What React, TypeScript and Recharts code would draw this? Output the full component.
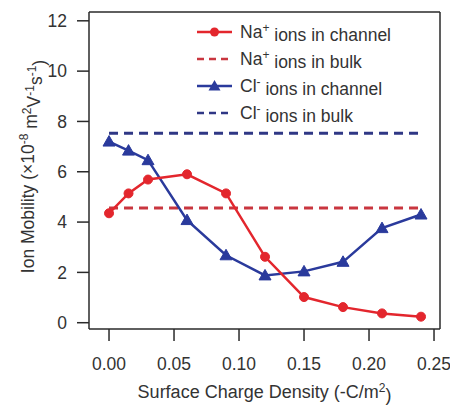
import React from 'react';
import { LineChart, Line, XAxis, YAxis, Legend } from 'recharts';

// surface charge density (-C/m^2)
const densities = [0, 0.015, 0.03, 0.06, 0.09, 0.12, 0.15, 0.18, 0.21, 0.24];
const naChannel = [4.35, 5.14, 5.69, 5.9, 5.14, 2.62, 1.02, 0.62, 0.37, 0.24];
const clChannel = [7.2, 6.84, 6.46, 4.08, 2.68, 1.88, 2.04, 2.42, 3.76, 4.3];
const bulkRange = [0, 0.24];
const naBulk = 4.56;
const clBulk = 7.53;

const xTicks = [0, 0.05, 0.1, 0.15, 0.2, 0.25];
const yTicks = [0, 2, 4, 6, 8, 10, 12];

const RED = '#e3262d';
const RED_DASH = '#c9363f';
const BLUE = '#2a3a9c';
const BLUE_DASH = '#2f3785';
const AXIS = '#2a2a2a';
const FONT = '"Liberation Sans", Arial, sans-serif';

const naData = densities.map((x, i) => ({ x, y: naChannel[i] }));
const clData = densities.map((x, i) => ({ x, y: clChannel[i] }));
const naBulkData = bulkRange.map(x => ({ x, y: naBulk }));
const clBulkData = bulkRange.map(x => ({ x, y: clBulk }));

const X_DOMAIN = [-0.0154, 0.2546];
const Y_DOMAIN = [-0.25, 12.35];

const Triangle = (props: any) => {
    const { cx, cy, index } = props;
    if (cx == null || cy == null) return null;
    const s = 6;
    return (
        <path
            key={`tri-${index}`}
            d={`M${cx},${cy - s} L${cx + s},${cy + s * 0.75} L${cx - s},${cy + s * 0.75} Z`}
            fill={BLUE}
            stroke={BLUE}
            strokeWidth={1}
        />
    );
};

const sup = { fontSize: 12 };

const XLabel = (props: any) => {
    const vb = props.viewBox;
    const cx = vb.x + vb.width / 2;
    return (
        <text x={cx} y={398} textAnchor="middle" fill="#333" fontSize={18} fontFamily={FONT}>
            Surface Charge Density (-C/m<tspan dy="-0.5em" style={sup}>2</tspan><tspan dy="0.5em">)</tspan>
        </text>
    );
};

const YLabel = (props: any) => {
    const vb = props.viewBox;
    const cy = vb.y + vb.height / 2 - 4;
    const x = 34;
    return (
        <text x={x} y={cy} transform={`rotate(-90 ${x} ${cy})`} textAnchor="middle" fill="#333" fontSize={17.5} fontFamily={FONT}>
            Ion Mobility (×10<tspan dy="-0.5em" style={sup}>-8</tspan>
            <tspan dy="0.5em"> m</tspan><tspan dy="-0.5em" style={sup}>2</tspan>
            <tspan dy="0.5em">V</tspan><tspan dy="-0.5em" style={sup}>-1</tspan>
            <tspan dy="0.5em">s</tspan><tspan dy="-0.5em" style={sup}>-1</tspan>
            <tspan dy="0.5em">)</tspan>
        </text>
    );
};

const legendItems = [
    { name: 'Na', charge: '+', rest: ' ions in channel', color: RED, dashed: false, marker: 'circle' },
    { name: 'Na', charge: '+', rest: ' ions in bulk', color: RED_DASH, dashed: true, marker: '' },
    { name: 'Cl', charge: '-', rest: ' ions in channel', color: BLUE, dashed: false, marker: 'triangle' },
    { name: 'Cl', charge: '-', rest: ' ions in bulk', color: BLUE_DASH, dashed: true, marker: '' },
];

const LegendBox = () => (
    <svg width={250} height={112} style={{ display: 'block' }}>
        {legendItems.map((it, i) => {
            const y = 14 + i * 27;
            return (
                <g key={i}>
                    <line x1={7} x2={42} y1={y} y2={y} stroke={it.color}
                        strokeWidth={2.5} strokeDasharray={it.dashed ? '7 5' : undefined} />
                    {it.marker === 'circle' && <circle cx={24.5} cy={y} r={4.5} fill={it.color} />}
                    {it.marker === 'triangle' && (
                        <path d={`M24.5,${y - 6} L30.5,${y + 4.5} L18.5,${y + 4.5} Z`} fill={it.color} />
                    )}
                    <text x={50} y={y + 6} fontSize={17.5} fontFamily={FONT} fill="#333">
                        {it.name}<tspan dy="-0.5em" style={sup}>{it.charge}</tspan>
                        <tspan dy="0.5em">{it.rest}</tspan>
                    </text>
                </g>
            );
        })}
    </svg>
);

export default function App() {
    const tickStyle = { fontSize: 17.5, fill: '#333', fontFamily: FONT };
    return (
        <div style={{ position: 'absolute', left: 0, top: 0, background: '#fff' }}>
            <LineChart width={450} height={408} margin={{ top: 11, right: 9, bottom: 0, left: 0 }}>
                <XAxis
                    dataKey="x"
                    type="number"
                    domain={X_DOMAIN}
                    allowDataOverflow
                    ticks={xTicks}
                    tickFormatter={(v: number) => v.toFixed(2)}
                    tick={tickStyle}
                    tickSize={12}
                    tickMargin={17}
                    height={79}
                    stroke={AXIS}
                    strokeWidth={1.5}
                    label={<XLabel />}
                />
                <XAxis xAxisId="top" orientation="top" type="number" domain={X_DOMAIN}
                    tick={false} tickLine={false} height={1} stroke={AXIS} strokeWidth={1.5} />
                <YAxis
                    type="number"
                    domain={Y_DOMAIN}
                    allowDataOverflow
                    ticks={yTicks}
                    tick={tickStyle}
                    tickSize={12}
                    tickMargin={10}
                    width={89}
                    stroke={AXIS}
                    strokeWidth={1.5}
                    label={<YLabel />}
                />
                <YAxis yAxisId="right" orientation="right" type="number" domain={Y_DOMAIN}
                    tick={false} tickLine={false} width={1} stroke={AXIS} strokeWidth={1.5} />
                <Legend
                    layout="horizontal"
                    verticalAlign="middle"
                    content={<LegendBox />}
                    wrapperStyle={{ left: 190, top: 18, width: 250, height: 112 }}
                />
                <Line data={clBulkData} dataKey="y" stroke={BLUE_DASH} strokeWidth={3} strokeDasharray="9 6"
                    dot={false} isAnimationActive={false} legendType="none" />
                <Line data={naBulkData} dataKey="y" stroke={RED_DASH} strokeWidth={3} strokeDasharray="9 6"
                    dot={false} isAnimationActive={false} legendType="none" />
                <Line data={clData} dataKey="y" stroke={BLUE} strokeWidth={2.5}
                    dot={<Triangle />} isAnimationActive={false} />
                <Line data={naData} dataKey="y" stroke={RED} strokeWidth={2.5}
                    dot={{ r: 4.5, fill: RED, stroke: RED, strokeWidth: 1 }} isAnimationActive={false} />
            </LineChart>
        </div>
    );
}
